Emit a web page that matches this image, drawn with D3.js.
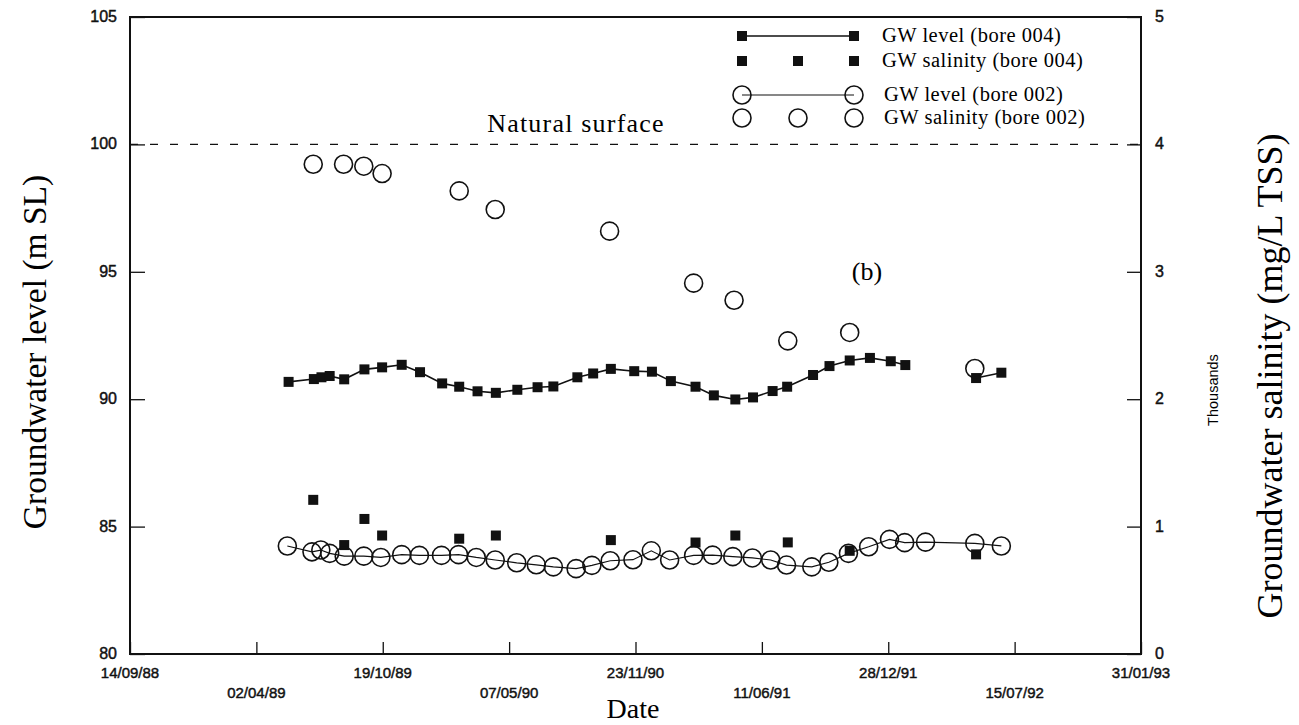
<!DOCTYPE html>
<html>
<head>
<meta charset="utf-8">
<script src="https://cdn.jsdelivr.net/npm/d3@7"></script>
<style>
  body { margin: 0; background: #fff; }
</style>
</head>
<body>
<div id="chart"></div>
<script>
//tick labels on the axes
var xTickLabels = ["14/09/88", "02/04/89", "19/10/89", "07/05/90", "23/11/90", "11/06/91", "28/12/91", "15/07/92", "31/01/93"];
var levelTicks = [80, 85, 90, 95, 100, 105];
var salinityTicks = [0, 1, 2, 3, 4, 5];
var naturalSurface = 100;

//GW level, bore 004 (m SL)
var level004Dates = ["1989-05-23","1989-07-02","1989-07-14","1989-07-27","1989-08-19","1989-09-20","1989-10-18","1989-11-18","1989-12-17",
  "1990-01-21","1990-02-17","1990-03-18","1990-04-16","1990-05-20","1990-06-21","1990-07-16","1990-08-23","1990-09-17","1990-10-15",
  "1990-11-21","1990-12-19","1991-01-18","1991-02-26","1991-03-27","1991-04-30","1991-05-28","1991-06-28","1991-07-21","1991-08-31",
  "1991-09-26","1991-10-28","1991-11-29","1992-01-01","1992-01-24","1992-05-15","1992-06-24"];
var level004 = [90.68, 90.79, 90.86, 90.91, 90.78, 91.17, 91.25, 91.35, 91.06,
  90.62, 90.49, 90.31, 90.25, 90.37, 90.47, 90.50, 90.86, 91.01, 91.19,
  91.10, 91.08, 90.71, 90.49, 90.15, 89.99, 90.07, 90.32, 90.49, 90.95,
  91.30, 91.52, 91.62, 91.49, 91.34, 90.83, 91.04];

//GW salinity, bore 004 (thousand mg/L TSS)
var salinity004Dates = ["1989-07-01","1989-08-19","1989-09-20","1989-10-18","1990-02-17","1990-04-16","1990-10-15","1991-02-26",
  "1991-04-30","1991-07-22","1991-10-28","1992-05-15"];
var salinity004 = [1.21, 0.855, 1.06, 0.93, 0.905, 0.93, 0.894, 0.875, 0.93, 0.876, 0.81, 0.782];

//GW level, bore 002 (m SL)
var level002Dates = ["1989-05-21","1989-06-29","1989-07-13","1989-07-27","1989-08-19","1989-09-19","1989-10-16","1989-11-18","1989-12-16",
  "1990-01-20","1990-02-16","1990-03-16","1990-04-15","1990-05-19","1990-06-19","1990-07-16","1990-08-21","1990-09-15","1990-10-14",
  "1990-11-19","1990-12-18","1991-01-16","1991-02-23","1991-03-25","1991-04-26","1991-05-27","1991-06-25","1991-07-20","1991-08-29",
  "1991-09-25","1991-10-26","1991-11-27","1991-12-30","1992-01-23","1992-02-25","1992-05-13","1992-06-24"];
var level002 = [84.24, 84.01, 84.08, 83.95, 83.84, 83.84, 83.79, 83.90, 83.87,
  83.87, 83.90, 83.79, 83.69, 83.58, 83.50, 83.42, 83.35, 83.48, 83.66,
  83.70, 84.05, 83.69, 83.87, 83.88, 83.82, 83.77, 83.69, 83.49, 83.42,
  83.60, 83.95, 84.21, 84.50, 84.37, 84.39, 84.34, 84.24];

//GW salinity, bore 002 (thousand mg/L TSS)
var salinity002Dates = ["1989-07-01","1989-08-18","1989-09-19","1989-10-18","1990-02-17","1990-04-15","1990-10-13","1991-02-23",
  "1991-04-28","1991-07-22","1991-10-28","1992-05-13"];
var salinity002 = [3.844, 3.844, 3.829, 3.771, 3.635, 3.489, 3.319, 2.911, 2.777, 2.458, 2.524, 2.241];

var legendLabels = ["GW level (bore 004)", "GW salinity (bore 004)", "GW level (bore 002)", "GW salinity (bore 002)"];


//dimensions
var width = 1299, height = 725;
var margin = {top: 17, right: 158, bottom: 71, left: 130};

var parseTick = d3.utcParse("%d/%m/%y");
var parseDate = d3.utcParse("%Y-%m-%d");
var tickDates = xTickLabels.map(parseTick);

var svg = d3.select("#chart").append("svg")
  .attr("width", width)
  .attr("height", height)
  .style("background", "#fff");

var x = d3.scaleUtc()
  .domain([tickDates[0], tickDates[tickDates.length - 1]])
  .range([margin.left, width - margin.right]);

var yLevel = d3.scaleLinear()
  .domain([80, 105])
  .range([height - margin.bottom, margin.top]);

var ySal = d3.scaleLinear()
  .domain([0, 5])
  .range([height - margin.bottom, margin.top]);

var serif = "'Liberation Serif', 'Times New Roman', serif";
var sans = "'Liberation Sans', Arial, sans-serif";

function pairs(dates, values) {
  return dates.map(function(d, i) { return {date: parseDate(d), value: values[i]}; });
}

//axes, ticks point inwards
var bottomAxis = d3.axisBottom(x).tickValues(tickDates).tickSize(-12).tickFormat("");
var leftAxis = d3.axisLeft(yLevel).tickValues(levelTicks).tickSize(-15).tickFormat("");
var rightAxis = d3.axisRight(ySal).tickValues(salinityTicks).tickSize(-14).tickFormat("");

svg.append("g").attr("transform", "translate(0," + (height - margin.bottom) + ")").call(bottomAxis);
svg.append("g").attr("transform", "translate(" + margin.left + ",0)").call(leftAxis);
svg.append("g").attr("transform", "translate(" + (width - margin.right) + ",0)").call(rightAxis);
svg.selectAll(".domain").remove();
svg.selectAll(".tick line").attr("stroke", "#111").attr("stroke-width", 1.3);

//frame
svg.append("rect")
  .attr("x", margin.left).attr("y", margin.top)
  .attr("width", width - margin.left - margin.right)
  .attr("height", height - margin.top - margin.bottom)
  .attr("fill", "none").attr("stroke", "#111").attr("stroke-width", 2);

//tick labels (a thin stroke to match the heavy scanned print)
function tickText(sel) {
  sel.style("font-family", sans).attr("fill", "#111")
    .attr("stroke", "#111").attr("stroke-width", 0.45);
}

svg.append("g").selectAll("text").data(levelTicks).enter().append("text")
  .attr("x", margin.left - 13)
  .attr("y", function(d) { return yLevel(d) + 5; })
  .attr("text-anchor", "end")
  .style("font-size", "16px")
  .call(tickText)
  .text(function(d) { return d; });

svg.append("g").selectAll("text").data(salinityTicks).enter().append("text")
  .attr("x", width - margin.right + 14)
  .attr("y", function(d) { return ySal(d) + 5; })
  .attr("text-anchor", "start")
  .style("font-size", "16px")
  .call(tickText)
  .text(function(d) { return d; });

svg.append("g").selectAll("text").data(xTickLabels).enter().append("text")
  .attr("x", function(d, i) { return x(tickDates[i]); })
  .attr("y", function(d, i) { return i % 2 == 0 ? 678 : 698; })
  .attr("text-anchor", "middle")
  .style("font-size", "15px")
  .call(tickText)
  .text(function(d) { return d; });

//axis titles
svg.append("text")
  .attr("transform", "translate(46," + 352 + ") rotate(-90)")
  .attr("text-anchor", "middle")
  .style("font-family", serif).style("font-size", "33.5px")
  .text("Groundwater level (m SL)");

svg.append("text")
  .attr("transform", "translate(1282," + 376 + ") rotate(-90)")
  .attr("text-anchor", "middle")
  .style("font-family", serif).style("font-size", "36px")
  .text("Groundwater salinity (mg/L TSS)");

svg.append("text")
  .attr("transform", "translate(1218," + 390 + ") rotate(-90)")
  .attr("text-anchor", "middle")
  .style("font-family", sans).style("font-size", "14.5px")
  .text("Thousands");

svg.append("text")
  .attr("x", 633).attr("y", 718)
  .attr("text-anchor", "middle")
  .style("font-family", serif).style("font-size", "28px")
  .text("Date");

//natural surface line
svg.append("line")
  .attr("x1", margin.left).attr("x2", width - margin.right)
  .attr("y1", yLevel(naturalSurface)).attr("y2", yLevel(naturalSurface))
  .attr("stroke", "#111").attr("stroke-width", 1.3)
  .attr("stroke-dasharray", "8,12");

svg.append("text")
  .attr("x", 576).attr("y", 132)
  .attr("text-anchor", "middle")
  .style("font-family", serif).style("font-size", "26px").style("letter-spacing", "1.2px")
  .text("Natural surface");

svg.append("text")
  .attr("x", 867).attr("y", 280)
  .attr("text-anchor", "middle")
  .style("font-family", serif).style("font-size", "26px")
  .text("(b)");

//series
var lev004 = pairs(level004Dates, level004);
var lev002 = pairs(level002Dates, level002);
var sal004 = pairs(salinity004Dates, salinity004);
var sal002 = pairs(salinity002Dates, salinity002);

//break the bore 004 line where there is a long gap in the record
var segments004 = [[]];
lev004.forEach(function(d, i) {
  if (i > 0 && (d.date - lev004[i - 1].date) > 60 * 864e5) segments004.push([]);
  segments004[segments004.length - 1].push(d);
});

var levelLine = d3.line()
  .x(function(d) { return x(d.date); })
  .y(function(d) { return yLevel(d.value); });

var plot = svg.append("g");

plot.append("path").datum(lev002)
  .attr("d", levelLine)
  .attr("fill", "none").attr("stroke", "#111").attr("stroke-width", 1.2);

plot.selectAll(".seg004").data(segments004).enter().append("path")
  .attr("class", "seg004")
  .attr("d", levelLine)
  .attr("fill", "none").attr("stroke", "#111").attr("stroke-width", 1.6);

var sq = 10, r = 9;

plot.append("g").selectAll("rect").data(lev004).enter().append("rect")
  .attr("x", function(d) { return x(d.date) - sq / 2; })
  .attr("y", function(d) { return yLevel(d.value) - sq / 2; })
  .attr("width", sq).attr("height", sq)
  .attr("fill", "#111");

plot.append("g").selectAll("rect").data(sal004).enter().append("rect")
  .attr("x", function(d) { return x(d.date) - sq / 2; })
  .attr("y", function(d) { return ySal(d.value) - sq / 2; })
  .attr("width", sq).attr("height", sq)
  .attr("fill", "#111");

plot.append("g").selectAll("circle").data(lev002).enter().append("circle")
  .attr("cx", function(d) { return x(d.date); })
  .attr("cy", function(d) { return yLevel(d.value); })
  .attr("r", r)
  .attr("fill", "none").attr("stroke", "#111").attr("stroke-width", 1.6);

plot.append("g").selectAll("circle").data(sal002).enter().append("circle")
  .attr("cx", function(d) { return x(d.date); })
  .attr("cy", function(d) { return ySal(d.value); })
  .attr("r", r)
  .attr("fill", "none").attr("stroke", "#111").attr("stroke-width", 1.6);

//legend
var legend = svg.append("g");
var lx = [742, 798, 854];
var ly = [36, 61, 95, 118];

legend.append("line").attr("x1", lx[0]).attr("x2", lx[2]).attr("y1", ly[0]).attr("y2", ly[0])
  .attr("stroke", "#111").attr("stroke-width", 1.5);
legend.append("line").attr("x1", lx[0]).attr("x2", lx[2]).attr("y1", ly[2]).attr("y2", ly[2])
  .attr("stroke", "#111").attr("stroke-width", 1.2);

legend.selectAll(".l1").data([lx[0], lx[2]]).enter().append("rect")
  .attr("x", function(d) { return d - sq / 2; }).attr("y", ly[0] - sq / 2)
  .attr("width", sq).attr("height", sq).attr("fill", "#111");
legend.selectAll(".l2").data(lx).enter().append("rect")
  .attr("x", function(d) { return d - sq / 2; }).attr("y", ly[1] - sq / 2)
  .attr("width", sq).attr("height", sq).attr("fill", "#111");
legend.selectAll(".l3").data([lx[0], lx[2]]).enter().append("circle")
  .attr("cx", function(d) { return d; }).attr("cy", ly[2]).attr("r", r)
  .attr("fill", "none").attr("stroke", "#111").attr("stroke-width", 1.6);
legend.selectAll(".l4").data(lx).enter().append("circle")
  .attr("cx", function(d) { return d; }).attr("cy", ly[3]).attr("r", r)
  .attr("fill", "none").attr("stroke", "#111").attr("stroke-width", 1.6);

legend.selectAll("text").data(legendLabels).enter().append("text")
  .attr("x", function(d, i) { return i < 2 ? 882 : 884; })
  .attr("y", function(d, i) { return ly[i] + 6; })
  .style("font-family", serif).style("font-size", "20.5px").style("letter-spacing", "0.5px")
  .text(function(d) { return d; });
</script>
</body>
</html>
